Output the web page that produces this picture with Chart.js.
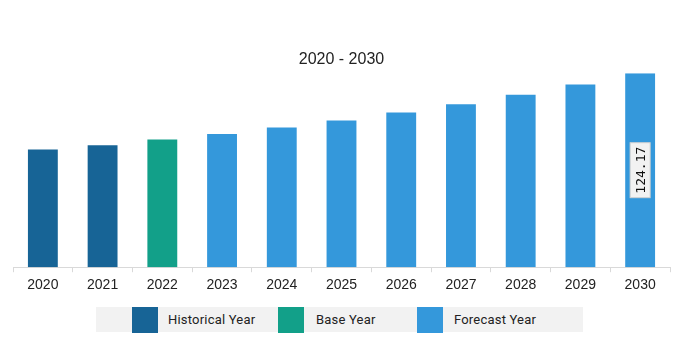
<!DOCTYPE html>
<html>
<head>
<meta charset="utf-8">
<script src="https://cdn.jsdelivr.net/npm/chart.js@4"></script>
<style>
  body { margin: 0; background: #fff; }
  #wrap { position: relative; width: 677px; height: 363px; }
  #chartMercado { position: absolute; left: 0; top: 0; }
  #leyenda {
    position: absolute; left: 96px; top: 307px; width: 487px; height: 25px;
    background: #f2f2f2; font-family: Roboto, sans-serif; font-size: 13px; color: #222;
    letter-spacing: 0.2px;
  }
  .item { position: absolute; top: 0; height: 25px; line-height: 25px; }
  .caja { position: absolute; top: 0; width: 26px; height: 26px; }
</style>
</head>
<body>
<div id="wrap">
  <canvas id="chartMercado" width="677" height="301"></canvas>
  <div id="leyenda"></div>
</div>
<script>
const anios = ['2020', '2021', '2022', '2023', '2024', '2025', '2026', '2027', '2028', '2029', '2030'];
const valores = [75.3, 78.1, 81.7, 85.3, 89.4, 93.9, 99.0, 104.3, 110.3, 116.9, 124.17];
const tipos = ['Historical Year', 'Historical Year', 'Base Year', 'Forecast Year', 'Forecast Year', 'Forecast Year',
    'Forecast Year', 'Forecast Year', 'Forecast Year', 'Forecast Year', 'Forecast Year'];
const leyendas = ['Historical Year', 'Base Year', 'Forecast Year'];
const colores = { 'Historical Year': '#176496', 'Base Year': '#12a089', 'Forecast Year': '#3498db' };

// etiqueta girada sobre la ultima barra
const etiquetaFinal = {
    id: 'etiquetaFinal',
    afterDatasetsDraw(chart) {
        const ctx = chart.ctx;
        const meta = chart.getDatasetMeta(0);
        const ultimo = meta.data[meta.data.length - 1];
        const texto = valores[valores.length - 1].toFixed(2);
        const cx = ultimo.x;
        const cy = (ultimo.y + ultimo.base) / 2;
        ctx.save();
        ctx.translate(cx, cy);
        ctx.rotate(-Math.PI / 2);
        ctx.font = '13px "DejaVu Sans Mono", monospace';
        const w = ctx.measureText(texto).width + 8;
        ctx.fillStyle = '#f2f2f2';
        ctx.strokeStyle = '#d0d0d0';
        ctx.fillRect(-w / 2, -10, w, 20);
        ctx.strokeRect(-w / 2, -10, w, 20);
        ctx.fillStyle = '#111';
        ctx.textAlign = 'center';
        ctx.textBaseline = 'middle';
        ctx.fillText(texto, 0, 1);
        ctx.restore();
    }
};

const chartMercado = new Chart(document.getElementById('chartMercado'), {
    type: 'bar',
    data: {
        labels: anios,
        datasets: [{
            data: valores,
            backgroundColor: tipos.map(t => colores[t]),
            borderWidth: 0,
            categoryPercentage: 1,
            barPercentage: 0.5
        }]
    },
    options: {
        responsive: false,
        animation: false,
        layout: { padding: { left: 13, right: 7, top: 0, bottom: 2 } },
        plugins: {
            legend: { display: false },
            tooltip: { enabled: false },
            title: {
                display: true,
                text: '2020 - 2030',
                color: '#222',
                font: { family: '"Liberation Sans", Arial, sans-serif', size: 16, weight: 'normal' },
                padding: { top: 50, bottom: 4 }
            }
        },
        scales: {
            x: {
                offset: true,
                grid: { drawOnChartArea: false, drawTicks: true, tickLength: 5, color: '#d9d9d9', offset: true },
                border: { color: '#d9d9d9' },
                ticks: { color: '#222', font: { family: '"Liberation Sans", Arial, sans-serif', size: 14 }, padding: 5 }
            },
            y: { display: false, min: 0, max: 124.17 }
        }
    },
    plugins: [etiquetaFinal]
});

// leyenda propia con fondo gris
const posiciones = [[36, 72], [182, 220], [321, 358]];
const leyenda = document.getElementById('leyenda');
leyendas.forEach((nombre, i) => {
    const caja = document.createElement('div');
    caja.className = 'caja';
    caja.style.left = posiciones[i][0] + 'px';
    caja.style.background = colores[nombre];
    const txt = document.createElement('div');
    txt.className = 'item';
    txt.style.left = posiciones[i][1] + 'px';
    txt.textContent = nombre;
    leyenda.appendChild(caja);
    leyenda.appendChild(txt);
});
</script>
</body>
</html>
